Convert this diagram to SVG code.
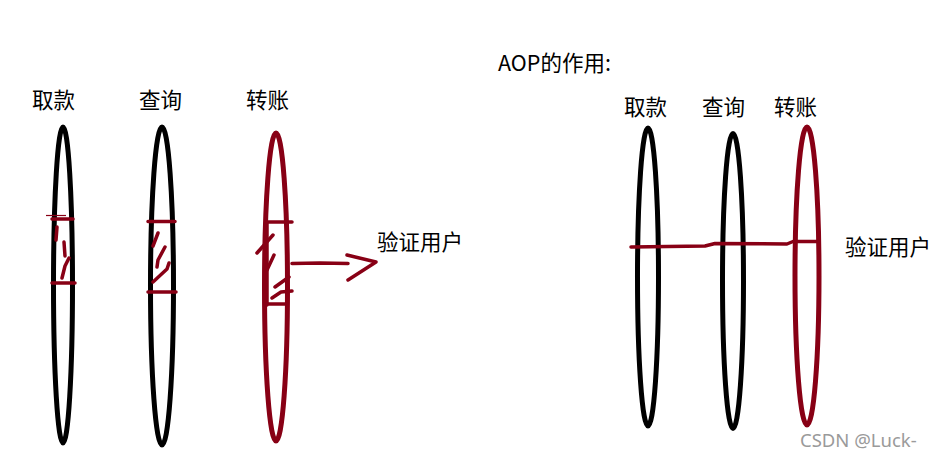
<svg xmlns="http://www.w3.org/2000/svg" width="935" height="457" viewBox="0 0 935 457">
<style>
.t{font-family:"Noto Sans CJK SC","Noto Sans",sans-serif;font-size:21.5px;fill:#000}
.k{fill:none;stroke:#000;stroke-width:5}
.r{fill:none;stroke:#880015;stroke-width:5}
.rl{fill:none;stroke:#880015;stroke-width:3.5;stroke-linecap:round;stroke-linejoin:round}
.wm{font-family:"Noto Sans","Liberation Sans",sans-serif;font-size:18.5px;fill:#9a9a9a}
</style>
<rect width="935" height="457" fill="#fff"/>
<g id="left-withdraw">
<ellipse class="k" cx="63" cy="285" rx="9.5" ry="158"/>
<text class="t" x="32" y="108">取款</text>
<path class="rl" d="M52 219H73M52 283H75"/>
<path d="M46 215.5H66" stroke="#880015" stroke-width="1.2"/>
<path class="rl" d="M57 227L56 240M64 242L65 256M69 258L65 266L62 278"/>
</g>
<g id="left-query">
<ellipse class="k" cx="162" cy="286" rx="11.5" ry="159"/>
<text class="t" x="139" y="108">查询</text>
<path class="rl" d="M148 221.5H175M148 292H176"/>
<path class="rl" d="M158 233L153 246M165 247L158 260L157 267M169 263L167 269L153 282"/>
</g>
<g id="left-transfer">
<ellipse class="r" cx="276" cy="287" rx="11.5" ry="154"/>
<text class="t" x="246" y="108">转账</text>
<path class="rl" d="M267 222V305M287 222V305M267 222H292M267 304H287"/>
<path class="rl" d="M273 235L257 253M274 255L267 270M289 277L275 287M292 291L281 292L272 298"/>
</g>
<g id="left-verify">
<text class="t" x="377" y="250">验证用户</text>
</g>
<g id="title">
<text class="t" x="498" y="71">AOP的作用:</text>
</g>
<g id="right-withdraw">
<ellipse class="k" cx="648" cy="277" rx="10.5" ry="149"/>
<text class="t" x="624" y="115">取款</text>
</g>
<g id="right-query">
<ellipse class="k" cx="733" cy="281" rx="10.5" ry="147.5"/>
<text class="t" x="702" y="115">查询</text>
</g>
<g id="right-transfer">
<ellipse class="r" cx="807" cy="276" rx="12" ry="149"/>
<text class="t" x="774" y="115">转账</text>
</g>
<g id="right-verify">
<text class="t" x="845" y="255">验证用户</text>
</g>
<g id="connectors">
<path class="rl" d="M292 263.5L320 263L348 263.5"/>
<path class="rl" d="M347 255L376 262L348 280"/>
<path class="rl" stroke-width="4" d="M631 247L705 246L715 243.5L787 244L793 241.5L818 241.5"/>
</g>
<text class="wm" x="800" y="447">CSDN @Luck-</text>
</svg>
